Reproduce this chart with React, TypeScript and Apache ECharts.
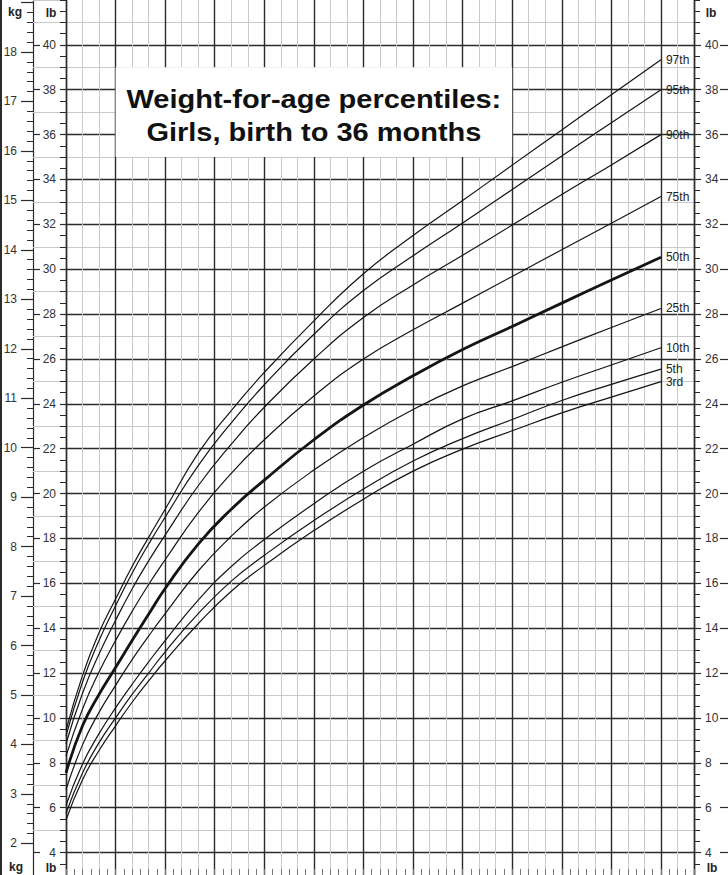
import React, { useEffect, useRef } from 'react'
import * as echarts from 'echarts'

const months = [0, 1, 2, 3, 4, 5, 6, 8, 10, 12, 15, 18, 21, 24, 27, 30, 33, 36]

// weight in lb for each percentile
const p97 = [9.45, 11.9, 13.8, 15.3, 16.75, 18.05, 19.3, 21.8, 23.7, 25.4, 27.7, 29.8, 31.5, 33.06, 34.64, 36.21, 37.78, 39.34]
const p95 = [9.2, 11.6, 13.45, 15.0, 16.45, 17.75, 18.95, 21.25, 23.15, 24.85, 27.1, 29.05, 30.6, 32.06, 33.55, 35.05, 36.53, 38.0]
const p90 = [8.85, 11.1, 12.85, 14.35, 15.75, 17.0, 18.15, 20.35, 22.2, 23.85, 26.0, 27.85, 29.3, 30.62, 31.97, 33.33, 34.65, 36.0]
const p75 = [8.3, 10.4, 12.05, 13.45, 14.75, 15.95, 17.05, 19.15, 20.9, 22.4, 24.35, 26.0, 27.3, 28.49, 29.68, 30.87, 32.05, 33.24]
const p50 = [7.55, 9.65, 11.05, 12.25, 13.45, 14.62, 15.77, 17.75, 19.3, 20.6, 22.4, 23.95, 25.25, 26.42, 27.45, 28.49, 29.52, 30.53]
const p25 = [6.8, 8.8, 10.25, 11.45, 12.6, 13.65, 14.65, 16.55, 18.1, 19.4, 21.05, 22.5, 23.75, 24.8, 25.66, 26.54, 27.4, 28.25]
const p10 = [6.1, 7.95, 9.3, 10.45, 11.5, 12.5, 13.45, 15.25, 16.75, 17.95, 19.55, 21.0, 22.2, 23.33, 24.13, 24.96, 25.73, 26.5]
const p5 = [5.75, 7.55, 8.9, 10.0, 11.05, 12.0, 12.95, 14.65, 16.1, 17.25, 18.8, 20.2, 21.45, 22.45, 23.3, 24.15, 24.87, 25.55]
const p3 = [5.45, 7.25, 8.55, 9.65, 10.7, 11.65, 12.55, 14.2, 15.65, 16.8, 18.35, 19.75, 21.0, 21.98, 22.8, 23.6, 24.3, 24.99]

const percentileNames = ['97th', '95th', '90th', '75th', '50th', '25th', '10th', '5th', '3rd']
const percentileValues = [p97, p95, p90, p75, p50, p25, p10, p5, p3]

const titleLines = ['Weight-for-age percentiles:', 'Girls, birth to 36 months']
const titleBox = { fromAge: 3, toAge: 27, topLb: 39, bottomLb: 35 }

const headerLabels = [
  { text: 'kg', x: 15, y: 12 },
  { text: 'lb', x: 51, y: 13 },
  { text: 'lb', x: 711, y: 13 },
  { text: 'kg', x: 16, y: 867 },
  { text: 'lb', x: 51, y: 868 },
  { text: 'lb', x: 712, y: 868 }
]

const W = 728
const H = 875
const PLOT_LEFT = 66
const PLOT_WIDTH = 628
const AGE_MAX = 38
const LB_MIN = 3
const LB_MAX = 42
const LB_MAJOR_MIN = 4
const LB_MAJOR_MAX = 40
const KG_MIN = 2
const KG_MAX = 19
const LB_PER_KG = 2.20462

const FONT = '"Liberation Sans", Arial, Helvetica, sans-serif'
const LIGHT = '#c9c9c9'
const DARK = '#2b2b2b'
const INK = '#141414'

const yOf = (lb: number) => H - ((lb - LB_MIN) * H) / (LB_MAX - LB_MIN)
const xOf = (age: number) => PLOT_LEFT + (age * PLOT_WIDTH) / AGE_MAX

const axisBase = (extra: any) => ({
  type: 'value',
  axisLine: { show: false, onZero: false },
  axisTick: { show: false },
  axisLabel: { show: false },
  splitLine: { show: false },
  ...extra
})

const line = (color: string, width: number) => ({ color, width })

const labelStyle = { fontSize: 12, color: '#333', fontFamily: FONT }

function buildOption(): echarts.EChartsOption {
  const majorTop = yOf(LB_MAJOR_MAX)
  const majorBottom = yOf(LB_MAJOR_MIN)
  const kgTop = yOf(KG_MAX * LB_PER_KG)
  const kgBottom = yOf(KG_MIN * LB_PER_KG)

  const lbRange = { gridIndex: 0, min: LB_MIN, max: LB_MAX }
  const lbMajor = { gridIndex: 1, min: LB_MAJOR_MIN, max: LB_MAJOR_MAX, interval: 2 }
  const ageRange = { min: 0, max: AGE_MAX }

  const series: any[] = percentileNames.map((name, i) => ({
    name,
    type: 'line',
    xAxisIndex: 0,
    yAxisIndex: 0,
    data: months.map((m, j) => [m, percentileValues[i][j]]),
    symbol: 'none',
    smooth: 0.5,
    silent: true,
    z: 3,
    lineStyle: { color: INK, width: name === '50th' ? 2.8 : 1.2 },
    endLabel: {
      show: true,
      formatter: '{a}',
      distance: 5,
      fontSize: 12,
      color: '#222',
      fontFamily: FONT
    }
  }))

  // white box behind the title, placed in data space
  series.push({
    name: 'title',
    type: 'line',
    xAxisIndex: 0,
    yAxisIndex: 0,
    data: [],
    silent: true,
    z: 2,
    markArea: {
      silent: true,
      itemStyle: { color: '#fff', opacity: 1, borderWidth: 0 },
      label: { show: false },
      data: [[
        { xAxis: titleBox.fromAge, yAxis: titleBox.topLb },
        { xAxis: titleBox.toAge, yAxis: titleBox.bottomLb }
      ]]
    }
  })

  const titleX = xOf((titleBox.fromAge + titleBox.toAge) / 2)
  const titleY = yOf((titleBox.topLb + titleBox.bottomLb) / 2) + 4

  return {
    animation: false,
    backgroundColor: '#fff',
    grid: [
      { left: PLOT_LEFT, top: 0, width: PLOT_WIDTH, height: H },
      { left: PLOT_LEFT, top: majorTop, width: PLOT_WIDTH, height: majorBottom - majorTop },
      { left: PLOT_LEFT, top: kgTop, width: PLOT_WIDTH, height: kgBottom - kgTop }
    ],
    xAxis: [
      axisBase({ gridIndex: 0, ...ageRange, interval: 1, position: 'bottom', splitLine: { show: true, lineStyle: line(LIGHT, 1) } }),
      axisBase({ gridIndex: 0, ...ageRange, interval: 3, position: 'bottom', splitLine: { show: true, lineStyle: line(DARK, 1.4) } }),
      axisBase({
        gridIndex: 0, ...ageRange, interval: 0.5, position: 'bottom',
        axisTick: { show: true, inside: true, length: 6, lineStyle: line('#777', 1) }
      }),
      axisBase({ gridIndex: 1, ...ageRange, position: 'bottom', show: false }),
      axisBase({ gridIndex: 2, ...ageRange, position: 'bottom', show: false })
    ] as any,
    yAxis: [
      // light grid every lb
      axisBase({ ...lbRange, position: 'left', interval: 1, splitLine: { show: true, showMinLine: false, showMaxLine: false, lineStyle: line(LIGHT, 1) } }),
      // dark grid and labels every 2 lb (left)
      axisBase({
        ...lbMajor, position: 'left',
        splitLine: { show: true, lineStyle: line(DARK, 1.4) },
        axisTick: { show: true, length: 6, lineStyle: line(DARK, 1.2) },
        axisLabel: { show: true, margin: 10, ...labelStyle }
      }),
      // right lb labels
      axisBase({
        ...lbMajor, position: 'right',
        axisTick: { show: true, length: 7, lineStyle: line(DARK, 1.2) },
        axisLabel: { show: true, margin: 11, ...labelStyle }
      }),
      // outer dash on the right edge
      axisBase({ ...lbMajor, position: 'right', offset: 34, axisTick: { show: true, inside: true, length: 8, lineStyle: line(DARK, 1.2) } }),
      // outer dash on the left lb strip
      axisBase({ ...lbMajor, position: 'left', offset: 33, axisTick: { show: true, inside: true, length: 7, lineStyle: line(DARK, 1.2) } }),
      // odd lb light lines through the lb strip + plot left edge
      axisBase({
        ...lbRange, position: 'left', interval: 2,
        axisTick: { show: true, length: 33, lineStyle: line(LIGHT, 1) },
        axisLine: { show: true, onZero: false, lineStyle: line(DARK, 1.4) }
      }),
      // half lb ticks left
      axisBase({ ...lbRange, position: 'left', interval: 0.5, axisTick: { show: true, length: 6, lineStyle: line(DARK, 1) } }),
      // half lb ticks right + plot right edge
      axisBase({
        ...lbRange, position: 'right', interval: 0.5,
        axisTick: { show: true, length: 6, lineStyle: line(DARK, 1) },
        axisLine: { show: true, onZero: false, lineStyle: line(DARK, 1.4) }
      }),
      // kg / lb separator
      axisBase({ ...lbRange, position: 'left', offset: 33, axisLine: { show: true, onZero: false, lineStyle: line(DARK, 1.2) } }),
      // outer left border
      axisBase({ ...lbRange, position: 'left', offset: 65, axisLine: { show: true, onZero: false, lineStyle: line(DARK, 2) } }),
      // kg scale
      axisBase({
        gridIndex: 2, min: KG_MIN, max: KG_MAX, interval: 1, position: 'left', offset: 33,
        axisTick: { show: true, length: 12, lineStyle: line(DARK, 1.2) },
        minorTick: { show: true, splitNumber: 5, length: 6, lineStyle: line(DARK, 1) },
        axisLabel: { show: true, margin: 16, ...labelStyle, formatter: (v: number) => (v === KG_MAX ? '' : String(v)) }
      })
    ] as any,
    graphic: [
      ...headerLabels.map((h) => ({
        type: 'text',
        x: h.x,
        y: h.y,
        z: 10,
        silent: true,
        style: {
          text: h.text,
          fontSize: 12,
          fontWeight: 'bold',
          fontFamily: FONT,
          fill: '#222',
          align: 'center',
          verticalAlign: 'middle'
        }
      })),
      {
        type: 'text',
        x: titleX,
        y: titleY,
        scaleX: 1.16,
        z: 10,
        silent: true,
        style: {
          text: titleLines.join('\n'),
          fontSize: 25,
          fontWeight: 'bold',
          fontFamily: FONT,
          lineHeight: 33,
          fill: '#111',
          align: 'center',
          verticalAlign: 'middle'
        }
      }
    ] as any,
    series
  }
}

export default function App() {
  const chartRef = useRef<HTMLDivElement>(null)

  useEffect(() => {
    if (!chartRef.current) return
    const chart = echarts.init(chartRef.current, null, { renderer: 'svg' })
    chart.setOption(buildOption())
    return () => {
      chart.dispose()
    }
  }, [])

  return (
    <div
      ref={chartRef}
      style={{ position: 'absolute', left: 0, top: 0, width: W, height: H, background: '#fff' }}
    />
  )
}
